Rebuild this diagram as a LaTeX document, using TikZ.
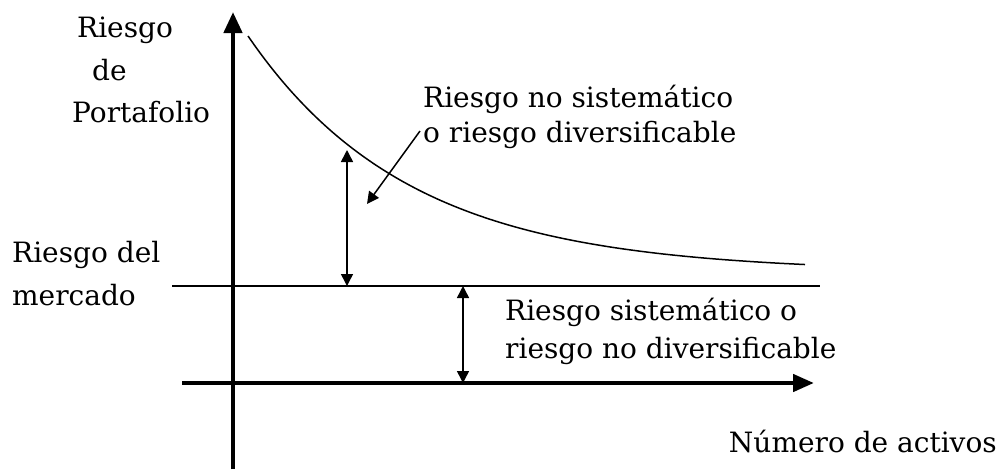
\documentclass[tikz,border=0pt]{standalone}
\usepackage{fontspec}
\setmainfont{DejaVu Serif}
\usetikzlibrary{arrows.meta}
\begin{document}
\begin{tikzpicture}[x=1pt,y=-1pt,
  lbl/.style={inner sep=0pt,font=\fontsize{28}{34}\selectfont},
  axis/.style={line width=4.5pt},
  axtip/.style={-{Triangle[length=21pt,width=18pt]}},
  market/.style={line width=2.2pt},
  curve/.style={line width=1.5pt},
  dbl/.style={line width=1.5pt,{Triangle[length=12pt,width=12pt]}-{Triangle[length=12pt,width=12pt]}},
  pointer/.style={line width=1.5pt,-{Triangle[length=12pt,width=12pt]}}]
\useasboundingbox (0,0) rectangle (1002,469);
% axes
\coordinate (ybot) at (233,469);
\coordinate (ytop) at (233,12);
\coordinate (xleft) at (182,383);
\coordinate (xright) at (814,383);
\draw[axis,axtip] (ybot) -- (ytop);
\draw[axis,-{Triangle[length=21pt,width=17pt]}] (xleft) -- (xright);
% market line
\coordinate (mleft) at (172,286);
\coordinate (mright) at (820,286);
\draw[market] (mleft) -- (mright);
% curve
\draw[curve] plot[domain=248:805,samples=80,smooth] (\x,{272-236*exp(-0.0062*(\x-248))});
% double arrows
\coordinate (a1t) at (347,150);
\coordinate (a1b) at (347,286);
\draw[dbl] (a1t) -- (a1b);
\coordinate (a2t) at (463,286);
\coordinate (a2b) at (463,383);
\draw[dbl] (a2t) -- (a2b);
% pointer
\coordinate (ptail) at (420,131);
\coordinate (phead) at (367,204);
\draw[pointer] (ptail) -- (phead);
% labels
\node[lbl,anchor=base west] (r1) at (77,37) {Riesgo};
\node[lbl,anchor=base west] (r2) at (92,80) {de};
\node[lbl,anchor=base west] (r3) at (72,122) {Portafolio};
\node[lbl,anchor=base west] (ns1) at (423,107) {Riesgo no sistemático};
\node[lbl,anchor=base west] (ns2) at (423,142) {o riesgo diversificable};
\node[lbl,anchor=base west] (m1) at (12,262) {Riesgo del};
\node[lbl,anchor=base west] (m2) at (12,305) {mercado};
\node[lbl,anchor=base west] (s1) at (505,320) {Riesgo sistemático o};
\node[lbl,anchor=base west] (s2) at (505,358) {riesgo no diversificable};
\node[lbl,anchor=base east] (na) at (997,452) {Número de activos};
\end{tikzpicture}
\end{document}
